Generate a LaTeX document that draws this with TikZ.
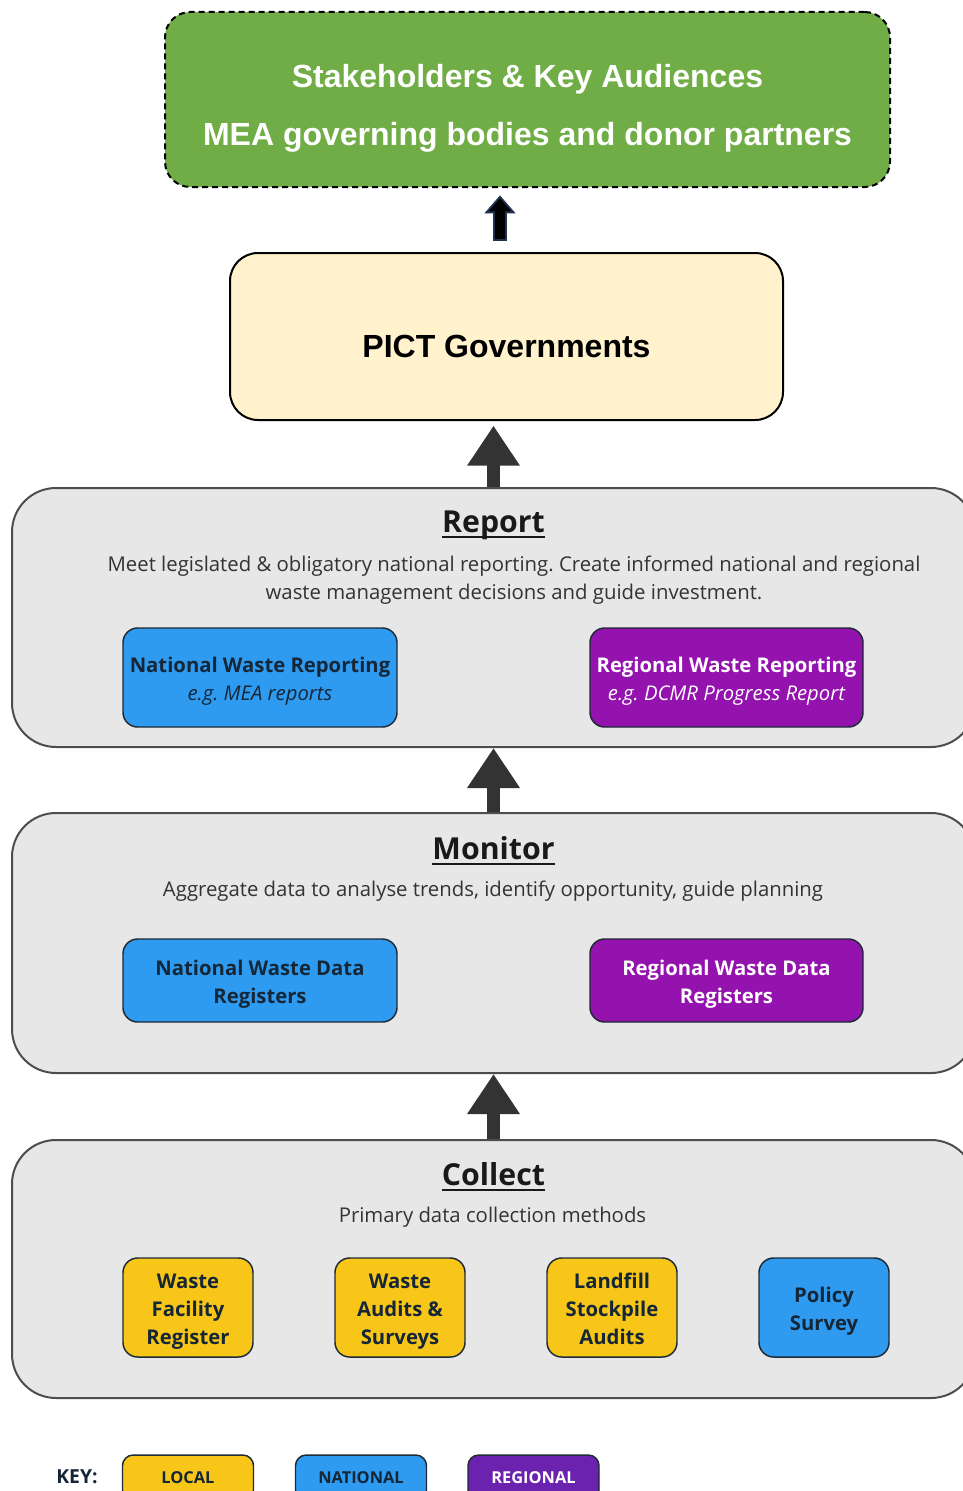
\documentclass[tikz,border=0pt]{standalone}
\usepackage{fontspec}
\setmainfont{Open Sans}
\newfontfamily\arialf{Liberation Sans}
\usetikzlibrary{arrows.meta}
\frenchspacing
\definecolor{greenfill}{HTML}{70AD47}
\definecolor{pictfill}{HTML}{FFF2CC}
\definecolor{panelfill}{HTML}{E7E7E7}
\definecolor{panelline}{HTML}{4D4D4D}
\definecolor{bluefill}{HTML}{2E9BF0}
\definecolor{purplefill}{HTML}{9412AD}
\definecolor{yellowfill}{HTML}{F7C618}
\definecolor{keypurple}{HTML}{6B22AE}
\definecolor{arrowgray}{HTML}{333333}
\definecolor{navyarrow}{HTML}{1F3050}
\definecolor{desctext}{HTML}{333333}
\definecolor{darkboxtext}{HTML}{152636}
\definecolor{boxline}{HTML}{1E2A36}
\tikzset{
  greenbox/.style={draw=black, line width=1.5pt, dash pattern=on 4.5pt off 3pt, fill=greenfill, rounded corners=19pt, minimum width=725*0.75pt, minimum height=175*0.75pt},
  greentext/.style={text=white, font=\arialf\bfseries\fontsize{24pt}{28pt}\selectfont, inner sep=0pt, anchor=base},
  pictbox/.style={draw=black, line width=1.5pt, fill=pictfill, rounded corners=21pt, minimum width=553*0.75pt, minimum height=167*0.75pt},
  picttext/.style={font=\arialf\bfseries\fontsize{24pt}{28pt}\selectfont, inner sep=0pt, anchor=base},
  panel/.style={draw=panelline, line width=1.5pt, fill=panelfill, rounded corners=33pt, minimum width=963*0.75pt},
  paneltitle/.style={font=\bfseries\fontsize{22.7pt}{26pt}\selectfont, text=black!90, inner sep=0pt, anchor=base},
  titleline/.style={draw=black!90, line width=1.5pt},
  desc/.style={font=\fontsize{15.25pt}{21pt}\selectfont, text=desctext, inner sep=0pt, anchor=base, align=center},
  catbox/.style={draw=boxline, line width=1.1pt, rounded corners=11pt, align=center, font=\bfseries\fontsize{15.2pt}{21pt}\selectfont, inner sep=0pt, text depth=3.25pt},
  twolines/.style={text height=37pt},
  threelines/.style={text height=58pt},
  nat/.style={catbox, fill=bluefill, text=darkboxtext},
  reg/.style={catbox, fill=purplefill, text=white},
  loc/.style={catbox, fill=yellowfill, text=darkboxtext},
  keybox/.style={draw=boxline, line width=1.1pt, rounded corners=8pt, minimum width=131*0.75pt, minimum height=46*0.75pt, font=\bfseries\fontsize{12.3pt}{14pt}\selectfont, inner sep=0pt},
  bigarrow/.style={draw=arrowgray, line width=10pt, -{Triangle[length=30pt, width=37.5pt]}},
  smalloutline/.style={draw=navyarrow, line width=10.5pt, -{Triangle[length=13.5pt, width=22.5pt]}},
  smallinner/.style={draw=black, line width=7.5pt, -{Triangle[length=9.7pt, width=16.1pt]}},
}
\begin{document}
\begin{tikzpicture}[x=0.75pt, y=-0.75pt]
\useasboundingbox (0,0) rectangle (963,1491);
\clip (0,0) rectangle (963,1491);

% top stakeholders box
\node[greenbox] (green) at (527.5,99.5) {};
\node[greentext] (g1) at (527.5,88) {Stakeholders \& Key Audiences};
\node[greentext] (g2) at (527.5,146) {MEA governing bodies and donor partners};

% PICT governments
\node[pictbox] (pict) at (506.5,336.5) {};
\node[picttext] (pt) at (506.5,357) {PICT Governments};
\coordinate (sa) at ([xshift=-4.9pt]pict.north);
\draw[smalloutline, shorten <=8.25pt, shorten >=5.5pt] (sa) -- (sa |- green.south);
\draw[smallinner, shorten <=9.75pt, shorten >=7.8pt] (sa) -- (sa |- green.south);

% Report panel
\node[panel, minimum height=259*0.75pt] (report) at (493.5,617.5) {};
\node[paneltitle] (rt) at (493.5,532) {Report};
\draw[titleline] ([yshift=-4pt]rt.base west) -- ([yshift=-4pt]rt.base east);
\node[desc] (rd1) at (514,571) {Meet legislated \& obligatory national reporting. Create informed national and regional};
\node[desc] (rd2) at (514,599) {waste management decisions and guide investment.};
\node[nat, twolines, minimum width=274*0.75pt, minimum height=99*0.75pt] (nwr) at (260,677.5) {National Waste Reporting\\\mdseries\itshape e.g. MEA reports};
\node[reg, twolines, minimum width=273*0.75pt, minimum height=99*0.75pt] (rwr) at (726.5,677.5) {Regional Waste Reporting\\\mdseries\itshape e.g. DCMR Progress Report};

% Monitor panel
\node[panel, minimum height=260*0.75pt] (monitor) at (493.5,943) {};
\node[paneltitle] (mt) at (493.5,859) {Monitor};
\draw[titleline] ([yshift=-4pt]mt.base west) -- ([yshift=-4pt]mt.base east);
\node[desc] (md) at (493,896) {Aggregate data to analyse trends, identify opportunity, guide planning};
\node[nat, twolines, minimum width=274*0.75pt, minimum height=83*0.75pt] (nwd) at (260,980.5) {National Waste Data\\Registers};
\node[reg, twolines, minimum width=273*0.75pt, minimum height=83*0.75pt] (rwd) at (726.5,980.5) {Regional Waste Data\\Registers};

% Collect panel
\node[panel, minimum height=258*0.75pt] (collect) at (493.5,1269) {};
\node[paneltitle] (ct) at (493.5,1185) {Collect};
\draw[titleline] ([yshift=-4pt]ct.base west) -- ([yshift=-4pt]ct.base east);
\node[desc] (cd) at (492.5,1222) {Primary data collection methods};
\node[loc, threelines, minimum width=130*0.75pt, minimum height=99*0.75pt] (wfr) at (188,1307.5) {Waste\\Facility\\Register};
\node[loc, threelines, minimum width=130*0.75pt, minimum height=99*0.75pt] (was) at (400,1307.5) {Waste\\Audits \&\\Surveys};
\node[loc, threelines, minimum width=130*0.75pt, minimum height=99*0.75pt] (lsa) at (612,1307.5) {Landfill\\Stockpile\\Audits};
\node[nat, twolines, minimum width=130*0.75pt, minimum height=99*0.75pt] (ps) at (824,1307.5) {Policy\\Survey};

% arrows between levels
\draw[bigarrow, shorten >=3.5pt] (report.north) -- (report.north |- pict.south);
\draw[bigarrow] (monitor.north) -- (monitor.north |- report.south);
\draw[bigarrow] (collect.north) -- (collect.north |- monitor.south);

% key
\node[font=\bfseries\fontsize{14.5pt}{16pt}\selectfont, text=darkboxtext, anchor=base, inner sep=0pt] (key) at (77,1483) {KEY:};
\node[keybox, fill=yellowfill, text=darkboxtext] (klocal) at (188,1478) {LOCAL};
\node[keybox, fill=bluefill, text=darkboxtext] (knat) at (361,1478) {NATIONAL};
\node[keybox, fill=keypurple, text=white] (kreg) at (533.5,1478) {REGIONAL};
\end{tikzpicture}
\end{document}
